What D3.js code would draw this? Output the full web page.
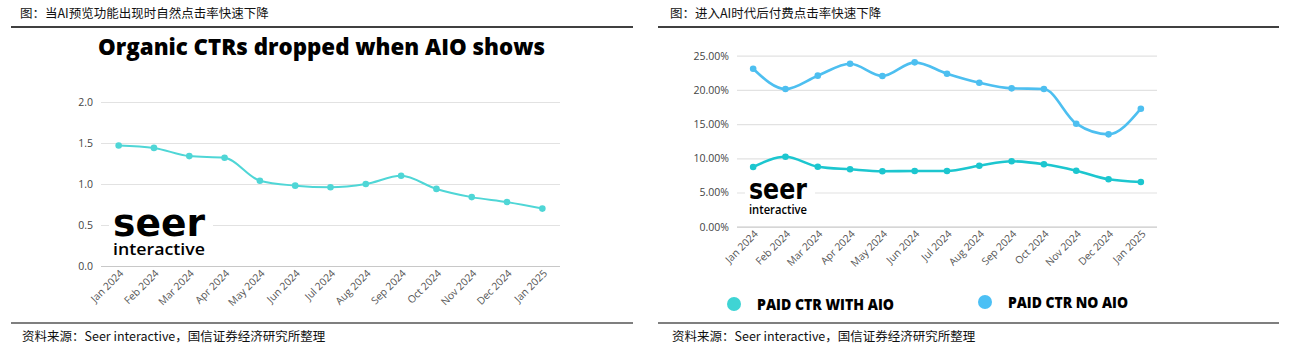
<!DOCTYPE html>
<html><head><meta charset="utf-8">
<script src="https://cdn.jsdelivr.net/npm/d3@7"></script>
<style>body{margin:0;background:#fff}svg{display:block}</style>
</head><body>
<svg id="c" width="1291" height="348"></svg>
<script>
const months = ["Jan 2024","Feb 2024","Mar 2024","Apr 2024","May 2024","Jun 2024","Jul 2024","Aug 2024","Sep 2024","Oct 2024","Nov 2024","Dec 2024","Jan 2025"];
const organicCTR = [1.47,1.44,1.34,1.32,1.04,0.98,0.96,1.00,1.10,0.94,0.84,0.78,0.70];
const paidWithAIO = [8.73,10.23,8.77,8.39,8.10,8.14,8.14,8.92,9.56,9.12,8.19,6.93,6.54];
const paidNoAIO = [23.10,20.13,22.08,23.83,22.03,24.03,22.37,21.05,20.23,20.13,15.06,13.50,17.25];
const leftTicks = [0,0.5,1.0,1.5,2.0];
const rightTicks = [0,5,10,15,20,25];
const leftHeader = "图：当AI预览功能出现时自然点击率快速下降";
const rightHeader = "图：进入AI时代后付费点击率快速下降";
const footer = "资料来源：Seer interactive，国信证券经济研究所整理";
const leftTitle = "Organic CTRs dropped when AIO shows";
const legendNames = ["PAID CTR WITH AIO","PAID CTR NO AIO"];
const legendColors = ["#3fd4d4","#4cc0f5"];

const svg = d3.select("#c");
const cjk = "'Noto Sans CJK SC', sans-serif";
const latin = "'Open Sans', 'Noto Sans', sans-serif";

[[11,633,20,leftHeader],[658,1279,670,rightHeader]].forEach(([x0,x1,tx,t])=>{
  svg.append("text").attr("x",tx).attr("y",18).attr("font-family",cjk).attr("font-size",12.5).attr("fill","#111").text(t);
  svg.append("line").attr("x1",x0).attr("x2",x1).attr("y1",27).attr("y2",27).attr("stroke","#000").attr("stroke-width",1.5);
  svg.append("line").attr("x1",x0).attr("x2",x1).attr("y1",323).attr("y2",323).attr("stroke","#000").attr("stroke-width",1.2);
  svg.append("text").attr("x",tx+2).attr("y",341).attr("font-family",cjk).attr("font-size",12.5).attr("fill","#111").text(footer);
});

function panel(opts){
  const g = svg.append("g");
  const x = d3.scalePoint().domain(months).range([opts.x0,opts.x1]).padding(0.5);
  const y = d3.scaleLinear().domain(opts.domain).range([opts.yb,opts.yt]);
  const yAxis = d3.axisLeft(y).tickValues(opts.ticks).tickSize(-(opts.x1-opts.x0)).tickPadding(8).tickFormat(opts.fmt);
  const ga = g.append("g").attr("transform",`translate(${opts.x0},0)`).call(yAxis);
  ga.select(".domain").remove();
  ga.selectAll(".tick line").attr("stroke",d=>d===0?"#c8c8c8":"#e2e2e2").attr("stroke-width",1.2);
  ga.selectAll(".tick text").attr("font-family",latin).attr("font-size",opts.fs).attr("fill","#444");
  const xAxis = d3.axisBottom(x).tickSize(0).tickPadding(0);
  const gx = g.append("g").attr("transform",`translate(0,${opts.yb})`).call(xAxis);
  gx.select(".domain").remove();
  gx.selectAll(".tick text").attr("font-family",latin).attr("font-size",10.3).attr("fill","#555")
    .attr("text-anchor","end").attr("dy",null).attr("y",null)
    .attr("transform","translate(5,8) rotate(-45)");
  const lg = g.append("g");
  const L = opts.logo;
  lg.append("rect").attr("x",L.x-4).attr("y",L.y-L.s*0.8).attr("width",L.w).attr("height",L.s*1.45).attr("fill","#fff");
  const lt = lg.append("text").attr("fill","#000");
  lt.append("tspan").attr("x",L.x).attr("y",L.y).attr("font-family","'DejaVu Sans', sans-serif").attr("font-weight","bold").attr("font-size",L.s)
    .attr("textLength",L.w-12).attr("lengthAdjust","spacingAndGlyphs").text("seer");
  lt.append("tspan").attr("x",L.x).attr("y",L.y+L.s*0.5).attr("font-family",latin).attr("font-weight",600).attr("font-size",L.s*0.45)
    .attr("textLength",L.w-12).attr("lengthAdjust","spacingAndGlyphs").text("interactive");
  opts.series.forEach(s=>{
    const line = d3.line().x((d,i)=>x(months[i])).y(d=>y(d)).curve(d3.curveMonotoneX);
    g.append("path").datum(s.values).attr("d",line).attr("fill","none").attr("stroke",s.color).attr("stroke-width",s.w);
    g.selectAll(null).data(s.values).enter().append("circle").attr("cx",(d,i)=>x(months[i])).attr("cy",d=>y(d)).attr("r",s.r).attr("fill",s.color);
  });
  return {x,y};
}

panel({x0:101,x1:560,yb:266,yt:102,domain:[0,2],ticks:leftTicks,fmt:d3.format(".1f"),fs:10.5,
  logo:{x:113,y:236,s:37,w:104},
  series:[{values:organicCTR,color:"#4fd6d6",w:2,r:3.3}]});

panel({x0:737,x1:1157,yb:226.7,yt:55.7,domain:[0,25],ticks:rightTicks,fmt:d=>d3.format(".2f")(d)+"%",fs:10.5,
  logo:{x:749,y:199,s:29,w:70},
  series:[{values:paidNoAIO,color:"#4dbff0",w:2.6,r:3.3},{values:paidWithAIO,color:"#1cc6cf",w:2.6,r:3.3}]});

svg.append("text").attr("x",98).attr("y",55).attr("font-family","'Open Sans', sans-serif").attr("font-weight",800).attr("font-size",22)
  .attr("textLength",447).attr("lengthAdjust","spacingAndGlyphs").attr("fill","#000").text(leftTitle);

const legPos = [[734,304,757,310,137],[985,302,1008,308,120]];
legendNames.forEach((n,i)=>{
  const p = legPos[i];
  svg.append("circle").attr("cx",p[0]).attr("cy",p[1]).attr("r",7).attr("fill",legendColors[i]);
  svg.append("text").attr("x",p[2]).attr("y",p[3]).attr("font-family","'Open Sans', sans-serif").attr("font-weight",800).attr("font-size",15)
    .attr("textLength",p[4]).attr("lengthAdjust","spacingAndGlyphs").attr("fill","#000").text(n);
});
</script>
</body></html>
